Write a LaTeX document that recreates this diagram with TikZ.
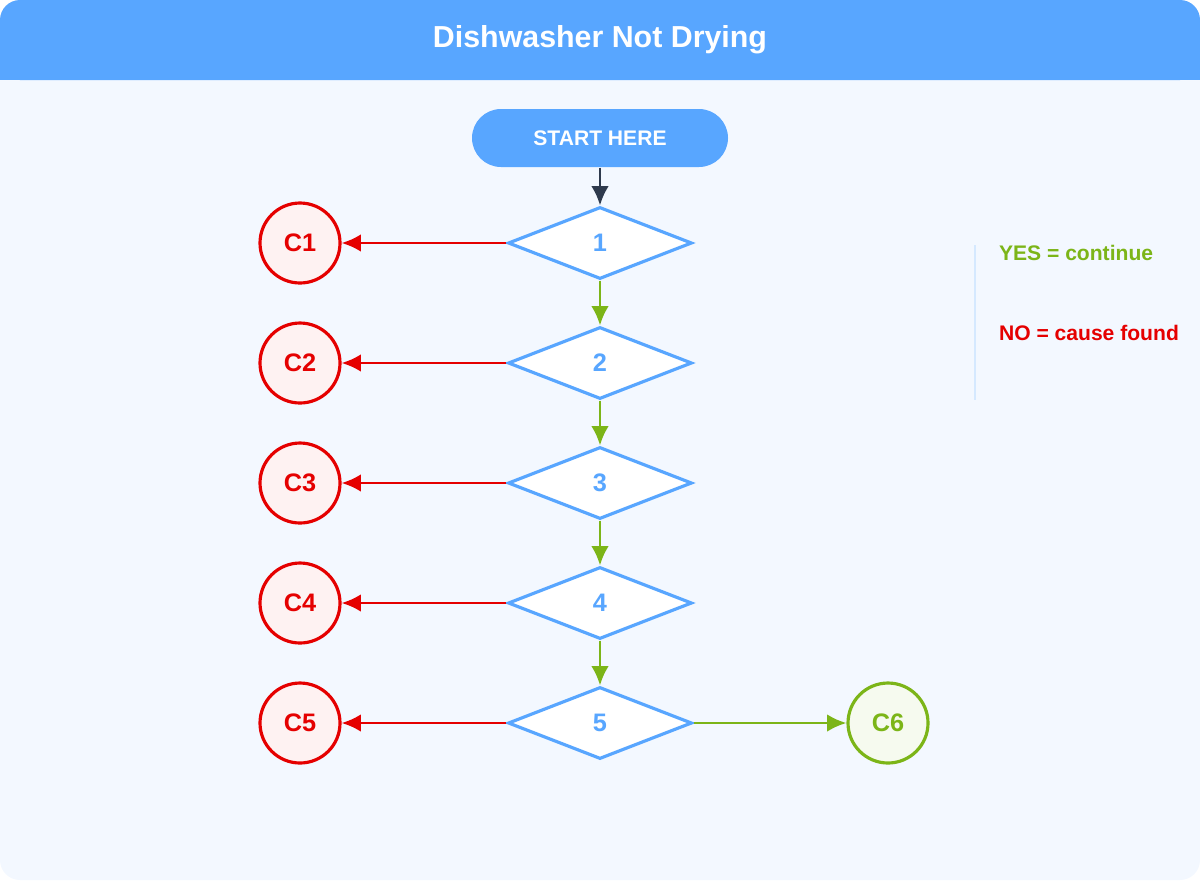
\documentclass[tikz,border=0pt]{standalone}
\usepackage{fontspec}
\setmainfont{Liberation Sans}
\usetikzlibrary{shapes.geometric,arrows.meta}
\definecolor{hdblue}{HTML}{58A6FF}
\definecolor{bgblue}{HTML}{F3F8FF}
\definecolor{nored}{HTML}{E50000}
\definecolor{yesgreen}{HTML}{7CB518}
\definecolor{darkarrow}{HTML}{2E3A4D}
\tikzset{every picture/.style={line width=0.75pt}}
\tikzset{
  check/.style={diamond,draw=hdblue,fill=white,line width=1.8pt,minimum width=3.68cm,minimum height=1.44cm,inner sep=0pt,text=hdblue,font=\bfseries\Large},
  cause/.style={circle,draw=nored,fill=nored!5,line width=1.8pt,minimum size=1.6cm,text=nored,font=\bfseries\Large},
  fixed/.style={circle,draw=yesgreen,fill=yesgreen!7,line width=1.8pt,minimum size=1.6cm,text=yesgreen,font=\bfseries\Large},
  noarr/.style={draw=nored,line width=1.5pt,-{Latex[length=11pt,width=10pt]}},
  yesarr/.style={draw=yesgreen,line width=1.5pt,-{Latex[length=11pt,width=10pt]}}
}
\begin{document}
\begin{tikzpicture}
\useasboundingbox (0,0) rectangle (24,-17.6);
\fill[bgblue,rounded corners=0.4cm] (0,0) rectangle (24,-17.6);
\fill[hdblue,rounded corners=0.4cm] (0,0) rectangle (24,-1.6);
\fill[hdblue] (0,-1) rectangle (24,-1.6);
\node[text=white,font=\bfseries\LARGE] (title) at (12,-0.8) {Dishwasher Not Drying};
%
\node[fill=hdblue,rounded corners=0.58cm,minimum width=5.12cm,minimum height=1.16cm,text=white,font=\bfseries\large] (start) at (12,-2.76) {START HERE};
\node[check] (1) at (12,-4.86) {1};
\node[check] (2) at (12,-7.26) {2};
\node[check] (3) at (12,-9.66) {3};
\node[check] (4) at (12,-12.06) {4};
\node[check] (5) at (12,-14.46) {5};
%
\node[cause] (c1) at (6,-4.86) {C1};
\node[cause] (c2) at (6,-7.26) {C2};
\node[cause] (c3) at (6,-9.66) {C3};
\node[cause] (c4) at (6,-12.06) {C4};
\node[cause] (c5) at (6,-14.46) {C5};
\node[fixed] (c6) at (17.76,-14.46) {C6};
%
\draw[darkarrow,line width=1.5pt,-{Latex[length=11pt,width=10pt]}] (start) -- (1);
\draw[yesarr] (1) -- (2);
\draw[yesarr] (2) -- (3);
\draw[yesarr] (3) -- (4);
\draw[yesarr] (4) -- (5);
\draw[yesarr] (5) -- (c6);
\foreach \i in {1,...,5} \draw[noarr] (\i) -- (c\i);
%
\coordinate (lg1) at (19.5,-4.9);
\coordinate (lg2) at (19.5,-8);
\draw[hdblue!25,line width=0.8pt] (lg1) -- (lg2);
\node[anchor=west,text=yesgreen,font=\bfseries\large] (yes) at (19.85,-5.06) {YES = continue};
\node[anchor=west,text=nored,font=\bfseries\large] (no) at (19.85,-6.66) {NO = cause found};
\end{tikzpicture}
\end{document}
